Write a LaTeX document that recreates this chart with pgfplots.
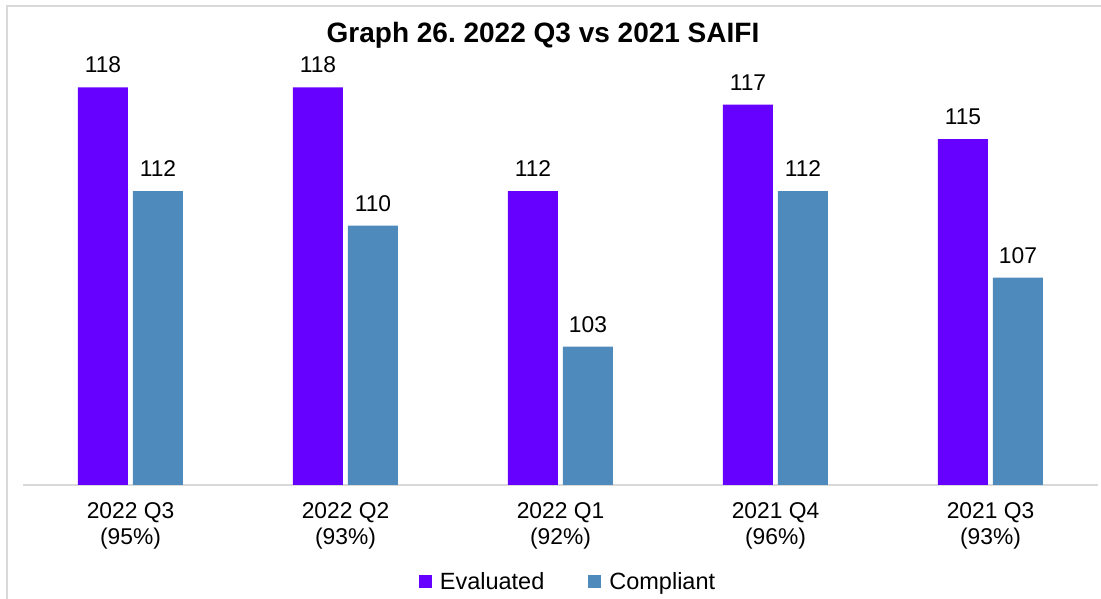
\documentclass[border=0pt]{standalone}
\usepackage{pgfplots}
\pgfplotsset{compat=1.18}
\usepackage{fontspec}
\setmainfont{Liberation Sans}
\frenchspacing
\definecolor{evalc}{RGB}{102,0,255}
\definecolor{compc}{RGB}{79,138,189}
\definecolor{gridc}{RGB}{217,217,217}
\begin{document}
\begin{tikzpicture}[x=1pt,y=1pt]
\useasboundingbox (0,0) rectangle (1101,599);
\draw[gridc, line width=2pt] (7,0) -- (7,593) -- (1101,593);
\begin{axis}[
  at={(23pt,114pt)}, anchor=south west,
  scale only axis, width=1075pt, height=432.2pt,
  xmin=-0.5, xmax=4.5, ymin=95, ymax=120,
  ybar=5pt, bar width=50pt,
  axis y line=none,
  axis x line*=bottom,
  x axis line style={-, gridc, line width=1.5pt},
  xtick=data,
  xticklabels={{2022 Q3\\(95\%)},{2022 Q2\\(93\%)},{2022 Q1\\(92\%)},{2021 Q4\\(96\%)},{2021 Q3\\(93\%)}},
  xticklabel style={align=center, font=\fontsize{22.8}{26}\selectfont, yshift=-14pt},
  major tick length=0pt,
  /pgf/number format/assume math mode=true,
  nodes near coords,
  every node near coord/.append style={font=\fontsize{22.8}{26}\selectfont, inner sep=0pt, yshift=14pt, black},
  clip=false,
  legend columns=2,
  legend style={draw=none, at={(axis description cs:0.507,-0.2244)}, anchor=center,
    font=\fontsize{23.5}{26}\selectfont, /tikz/every even column/.append style={column sep=42pt},
    inner sep=0pt, cells={anchor=west}},
  legend image code/.code={\fill[#1] (0pt,-6.5pt) rectangle (13pt,6.5pt); \path (19pt,0pt);},
]
\addplot[fill=evalc, draw=none] coordinates {(0,118) (1,118) (2,112) (3,117) (4,115)};
\addplot[fill=compc, draw=none] coordinates {(0,112) (1,110) (2,103) (3,112) (4,107)};
\legend{Evaluated, Compliant}
\end{axis}
\node[font=\bfseries\fontsize{28}{32}\selectfont] at (543,564) {Graph 26. 2022 Q3 vs 2021 SAIFI};
\end{tikzpicture}
\end{document}
